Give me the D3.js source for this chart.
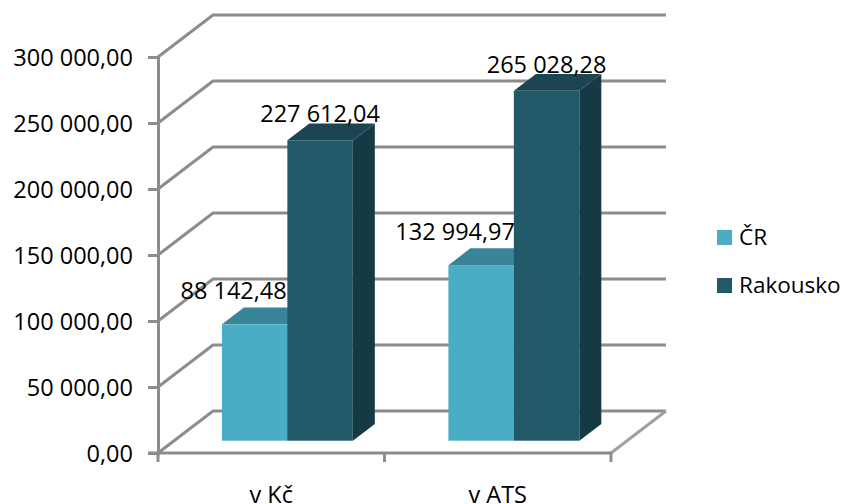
<!DOCTYPE html>
<html>
<head>
<meta charset="utf-8">
<script src="https://cdn.jsdelivr.net/npm/d3@7"></script>
<style>
  html, body { margin: 0; padding: 0; background: #fff; }
  svg { display: block; }
  text { font-family: "Open Sans", sans-serif; fill: #000; }
</style>
</head>
<body>
<script>
        let categories = ["v Kč", "v ATS"];
        let seriesNames = ["ČR", "Rakousko"];
        let cr = [88142.48, 132994.97];
        let rakousko = [227612.04, 265028.28];
        let yTicks = [0, 50000, 100000, 150000, 200000, 250000, 300000];

        let colors = {
            "ČR": {front: "#4bacc6", top: "#3a8499", side: "#2f6f80"},
            "Rakousko": {front: "#215968", top: "#1b4552", side: "#163a44"}
        };
        let gridColor = "#8c8c8c";
        let gridWidth = 3;
        let fontSize = 23.5;

        let svg = d3.select("body").append("svg")
            .attr("width", 842)
            .attr("height", 504);

        let cz = d3.formatLocale({decimal: ",", thousands: " ", grouping: [3], currency: ["", ""]});
        let fmt = cz.format(",.2f");

        //front plane scales
        let y = d3.scaleLinear().domain([0, 300000]).range([453, 57]);
        let x = d3.scaleBand().domain(categories).range([158, 611]);
        let inner = d3.scaleBand().domain(seriesNames).range([0, x.bandwidth()]).paddingOuter(0.73).paddingInner(0);

        //depth goes back and to the right
        let depthX = d3.scaleLinear().domain([0, 1]).range([0, 55]);
        let depthY = d3.scaleLinear().domain([0, 1]).range([0, -42]);
        let barDepthStart = 0.293;
        let barDepthEnd = 0.693;

        //gridlines: left wall diagonal, then along the back wall
        yTicks.forEach(t => {
            let pts = [[158, y(t)], [158 + depthX(1), y(t) + depthY(1)], [611 + depthX(1), y(t) + depthY(1)]];
            svg.append("path")
                .attr("d", d3.line()(pts))
                .attr("fill", "none")
                .attr("stroke", gridColor)
                .attr("stroke-width", gridWidth);
        });

        //floor right edge
        svg.append("line")
            .attr("x1", 611).attr("y1", y(0))
            .attr("x2", 611 + depthX(1)).attr("y2", y(0) + depthY(1))
            .attr("stroke", "#a0a0a0")
            .attr("stroke-width", gridWidth);

        //axes
        let yAxis = d3.axisLeft(y).tickValues(yTicks).tickSize(10).tickPadding(15).tickFormat(fmt);
        let gy = svg.append("g").attr("transform", "translate(158,0)").call(yAxis);
        let xTickPos = [x.range()[0], x.range()[0] + x.bandwidth(), x.range()[1]];
        let gx = svg.append("g").attr("class", "xaxis");
        gx.append("line")
            .attr("x1", 148).attr("x2", 611)
            .attr("y1", y(0)).attr("y2", y(0));
        xTickPos.forEach(p => {
            gx.append("line")
                .attr("x1", p).attr("x2", p)
                .attr("y1", y(0)).attr("y2", y(0) + 9);
        });
        gx.selectAll("line").attr("stroke", gridColor).attr("stroke-width", gridWidth);
        gy.select(".domain").attr("stroke", gridColor).attr("stroke-width", gridWidth);
        gy.selectAll(".tick line").attr("stroke", gridColor).attr("stroke-width", gridWidth);
        gy.selectAll(".tick text")
            .style("font-size", fontSize + "px")
            .style("font-family", '"Open Sans", sans-serif')
            .attr("fill", "#000")
            .attr("y", 1);

        //category labels
        svg.selectAll(".cat")
            .data(categories)
            .join("text")
            .attr("class", "cat")
            .attr("x", d => x(d) + x.bandwidth() / 2)
            .attr("y", 503)
            .attr("text-anchor", "middle")
            .style("font-size", fontSize + "px")
            .text(d => d);

        function bar(cat, name, value) {
            let c = colors[name];
            let x0 = x(cat) + inner(name) + depthX(barDepthStart);
            let x1 = x0 + inner.bandwidth();
            let base = y(0) + depthY(barDepthStart);
            let top = y(value) + depthY(barDepthStart);
            let dx = depthX(barDepthEnd - barDepthStart);
            let dy = depthY(barDepthEnd - barDepthStart);
            let g = svg.append("g");
            g.append("path")
                .attr("d", d3.line()([[x1, top], [x1 + dx, top + dy], [x1 + dx, base + dy], [x1, base]]))
                .attr("fill", c.side);
            g.append("path")
                .attr("d", d3.line()([[x0, top], [x0 + dx, top + dy], [x1 + dx, top + dy], [x1, top]]))
                .attr("fill", c.top);
            g.append("rect")
                .attr("x", x0).attr("y", top)
                .attr("width", x1 - x0).attr("height", base - top)
                .attr("fill", c.front);
        }

        //labels of CR were moved by hand in the original, so they sit left of the bar
        let labelShift = {"ČR": [-21, -26], "Rakousko": [0, 0]};
        let labelRise = {"ČR": 25, "Rakousko": 18};

        function label(cat, i, name, value) {
            svg.append("text")
                .attr("x", x(cat) + inner(name) + inner.bandwidth() / 2 + depthX(barDepthStart) + labelShift[name][i])
                .attr("y", y(value) + depthY(barDepthStart) - labelRise[name])
                .attr("text-anchor", "middle")
                .style("font-size", fontSize + "px")
                .text(fmt(value));
        }

        categories.forEach((cat, i) => {
            bar(cat, "ČR", cr[i]);
            bar(cat, "Rakousko", rakousko[i]);
        });
        categories.forEach((cat, i) => {
            label(cat, i, "ČR", cr[i]);
            label(cat, i, "Rakousko", rakousko[i]);
        });

        //legend
        let legendY = d3.scalePoint().domain(seriesNames).range([238, 286]);
        seriesNames.forEach(name => {
            svg.append("rect")
                .attr("x", 717).attr("y", legendY(name) - 8)
                .attr("width", 15).attr("height", 15)
                .attr("fill", colors[name].front);
            svg.append("text")
                .attr("x", 739).attr("y", legendY(name) + 7)
                .style("font-size", "22.5px")
                .text(name);
        });
</script>
</body>
</html>
